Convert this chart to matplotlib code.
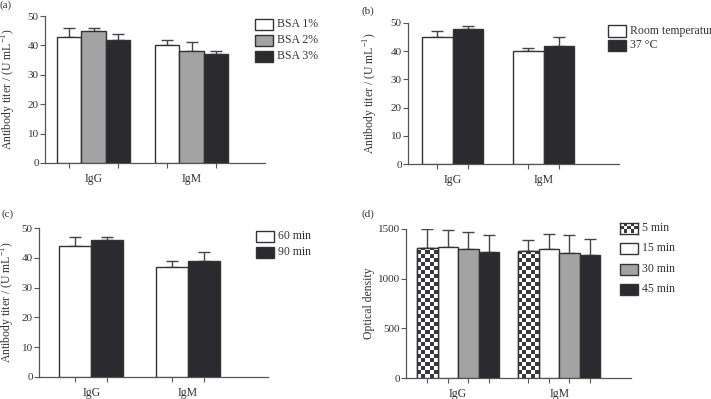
"""Four-panel antibody titer bar charts (GraphPad-style recreation)."""

import matplotlib
matplotlib.use("Agg")
import matplotlib.pyplot as plt
import numpy as np
from matplotlib.colors import ListedColormap
from matplotlib.patches import Rectangle

plt.rcParams["font.family"] = ["Liberation Serif", "DejaVu Serif"]
plt.rcParams["mathtext.fontset"] = "custom"
plt.rcParams["mathtext.rm"] = "Liberation Serif"

W, H = 711, 399

groups = ["IgG", "IgM"]

# (a) BSA concentration
bsa_labels = ["BSA 1%", "BSA 2%", "BSA 3%"]
bsa_means = [[43, 40], [45, 38], [42, 37]]
bsa_err = [[3, 2], [1, 3], [2, 1]]

# (b) incubation temperature
temp_labels = ["Room temperature", "37 \u00b0C"]
temp_means = [[45, 40], [48, 42]]
temp_err = [[2, 1], [1, 3]]

# (c) incubation time
time_labels = ["60 min", "90 min"]
time_means = [[44, 37], [46, 39]]
time_err = [[3, 2], [1, 3]]

# (d) development time
dev_labels = ["5 min", "15 min", "30 min", "45 min"]
dev_means = [[1305, 1282], [1315, 1295], [1295, 1255], [1271, 1234]]
dev_err = [[192, 104], [172, 158], [175, 181], [165, 165]]

WHITE, GRAY, DARK = "#ffffff", "#a3a3a3", "#2b2b2f"
EDGE = "#333333"
SPINE = "#555555"
CHECK_CMAP = ListedColormap(["#ffffff", "#3a3a3e"])


def px_axes(fig, left, top, right, bottom):
    return fig.add_axes([left / W, 1 - bottom / H, (right - left) / W, (bottom - top) / H])


def checker(nrows, ncols):
    return np.indices((nrows, ncols)).sum(axis=0) % 2


def draw_panel(fig, box, labels, means, errs, colors, width, xlim, ylim, yticks, ylabel,
               ylab_x, cell=None):
    ax = px_axes(fig, *box)
    n = len(labels)
    x = np.arange(len(groups))
    offsets = (np.arange(n) - (n - 1) / 2) * width
    tick_pos = []
    for i in range(n):
        pos = x + offsets[i]
        tick_pos.extend(pos)
        face = colors[i] if colors[i] != "checker" else "white"
        bars = ax.bar(pos, means[i], width, color=face, edgecolor=EDGE, linewidth=1.0,
                      zorder=3)
        ax.errorbar(pos, means[i], yerr=[np.zeros(len(groups)), errs[i]], fmt="none",
                    ecolor="#444444", elinewidth=1.0, capsize=4.5, capthick=1.0, zorder=2)
        if colors[i] == "checker":
            for b in bars:
                x0, hgt = b.get_x(), b.get_height()
                nrows = int(np.ceil(hgt / cell))
                im = ax.imshow(checker(nrows, 5), cmap=CHECK_CMAP, vmin=0, vmax=1,
                               extent=[x0, x0 + width, 0, nrows * cell], origin="lower",
                               aspect="auto", interpolation="nearest", zorder=3.5)
                im.set_clip_path(b)
                outline = Rectangle((x0, 0), width, hgt, fill=False, edgecolor=EDGE,
                                    linewidth=1.0, zorder=4)
                ax.add_patch(outline)
    ax.set_xlim(*xlim)
    ax.set_ylim(*ylim)
    ax.set_yticks(yticks)
    ax.set_xticks(tick_pos, minor=True)
    ax.set_xticks(x)
    ax.set_xticklabels(groups, fontsize=8.5, color="#333333")
    ax.tick_params(axis="x", which="major", length=0, pad=7)
    ax.tick_params(axis="x", which="minor", length=3.5, width=0.8, color=SPINE)
    ax.tick_params(axis="y", length=3.5, width=0.8, color=SPINE, labelsize=8, pad=1,
                   labelcolor="#333333")
    for s in ["top", "right"]:
        ax.spines[s].set_visible(False)
    for s in ["left", "bottom"]:
        ax.spines[s].set_color(SPINE)
        ax.spines[s].set_linewidth(0.9)
    fig.text(ylab_x / W, 1 - (box[1] + box[3]) / 2 / H, ylabel, rotation=90,
             ha="center", va="center", fontsize=8.5, color="#333333")
    return ax


def draw_legend(fig, labels, colors, x0, y_centers, box_w=18, box_h=11):
    for lab, col, yc in zip(labels, colors, y_centers):
        rect = [x0 / W, 1 - (yc + box_h / 2) / H, box_w / W, box_h / H]
        if col == "checker":
            lax = fig.add_axes(rect)
            lax.imshow(checker(3, 5), cmap=CHECK_CMAP, vmin=0, vmax=1, aspect="auto",
                       interpolation="nearest")
            lax.set_xticks([])
            lax.set_yticks([])
            for s in lax.spines.values():
                s.set_color(EDGE)
                s.set_linewidth(1.0)
        else:
            fig.patches.append(Rectangle((rect[0], rect[1]), rect[2], rect[3],
                                         transform=fig.transFigure, facecolor=col,
                                         edgecolor=EDGE, linewidth=1.0))
        fig.text((x0 + box_w + 4) / W, 1 - yc / H, lab, ha="left", va="center",
                 fontsize=8.5, color="#333333")


fig = plt.figure(figsize=(W / 100, H / 100), dpi=100)
titer_label = "Antibody titer / (U mL$^{-1}$)"
ticks50 = [0, 10, 20, 30, 40, 50]

draw_panel(fig, (45, 16, 265, 163), bsa_labels, bsa_means, bsa_err, [WHITE, GRAY, DARK],
           0.25, (-0.495, 1.75), (0, 50), ticks50, titer_label, 9)
draw_legend(fig, bsa_labels, [WHITE, GRAY, DARK], 255, [24, 40, 56])

draw_panel(fig, (408, 23, 619, 164), temp_labels, temp_means, temp_err, [WHITE, DARK],
           0.335, (-0.49, 1.83), (0, 50), ticks50, titer_label, 371)
draw_legend(fig, temp_labels, [WHITE, DARK], 608, [31, 45])

draw_panel(fig, (39, 228, 268, 377), time_labels, time_means, time_err, [WHITE, DARK],
           0.33, (-0.54, 1.83), (0, 50), ticks50, titer_label, 8)
draw_legend(fig, time_labels, [WHITE, DARK], 256, [236, 252])

draw_panel(fig, (406, 229, 631, 378), dev_labels, dev_means, dev_err,
           ["checker", WHITE, GRAY, DARK], 0.203, (-0.515, 1.71), (0, 1500),
           [0, 500, 1000, 1500], "Optical density", 369, cell=40)
draw_legend(fig, dev_labels, ["checker", WHITE, GRAY, DARK], 620, [228, 248, 269, 289])

for lab, xx, yy in [("(a)", 0, 5), ("(b)", 362, 11), ("(c)", 1, 214), ("(d)", 362, 214)]:
    fig.text(xx / W, 1 - yy / H, lab, ha="left", va="center", fontsize=8, color="#333333")

fig.savefig("out.png", dpi=100)
